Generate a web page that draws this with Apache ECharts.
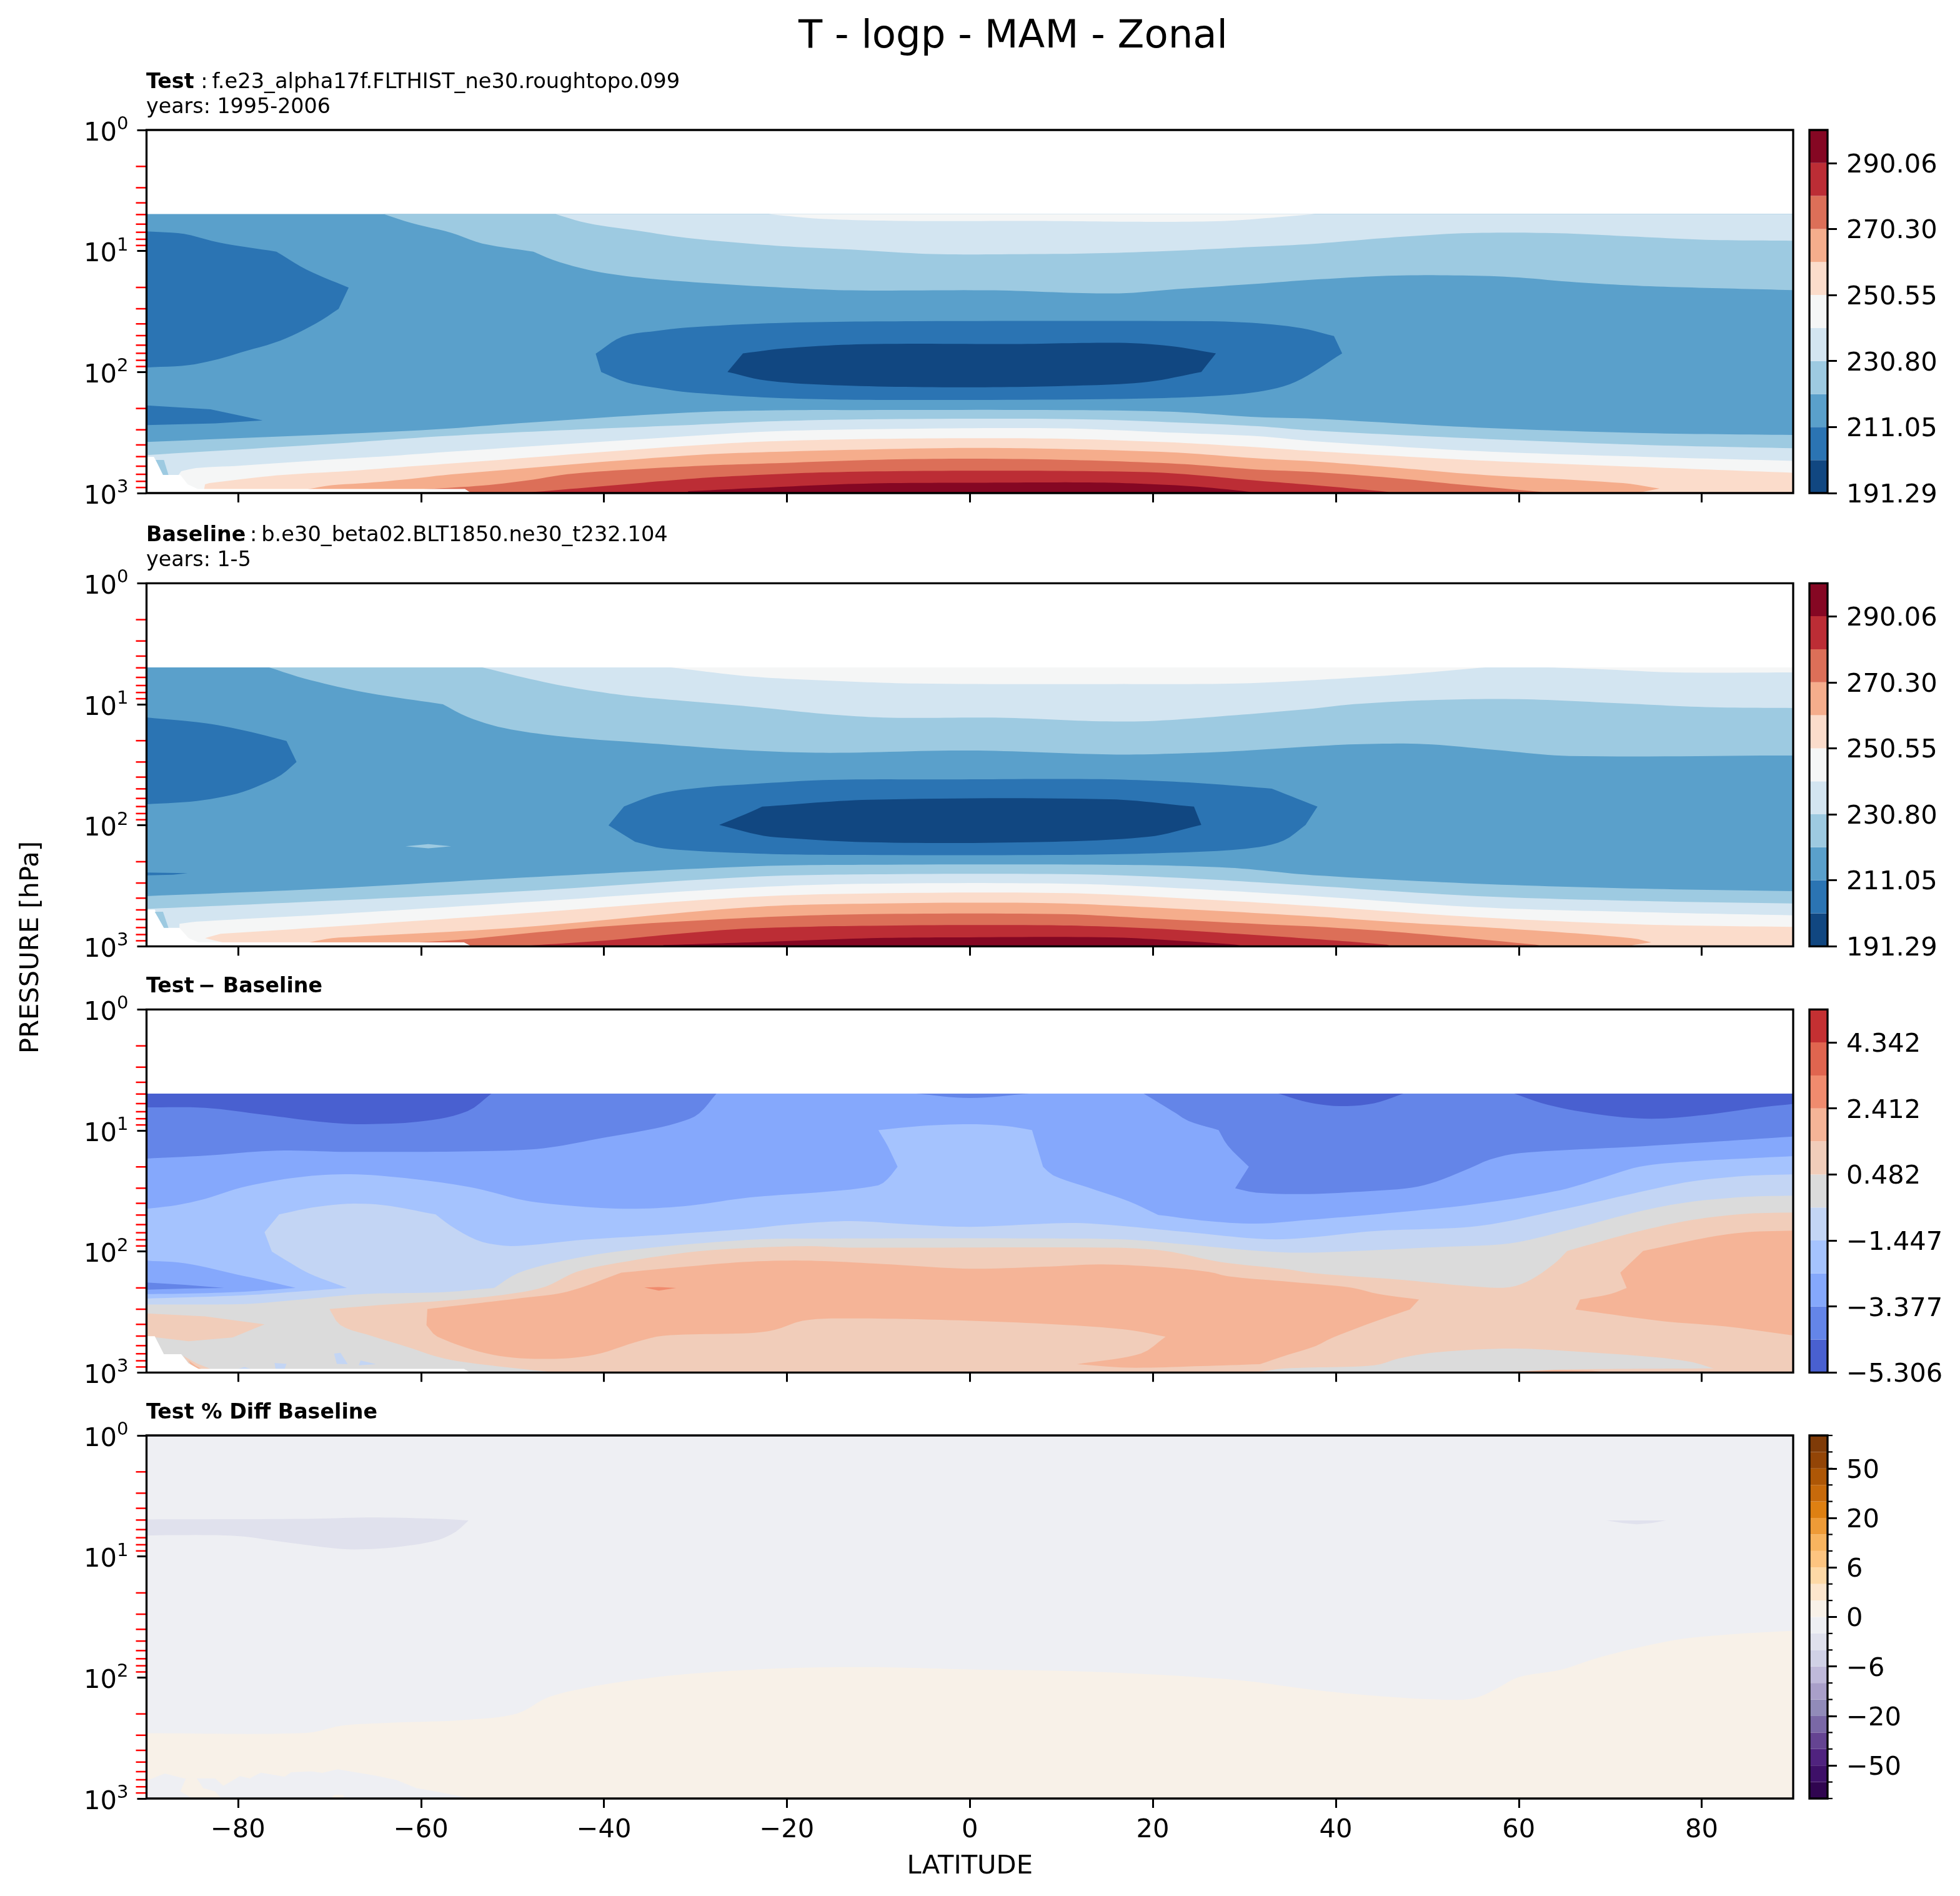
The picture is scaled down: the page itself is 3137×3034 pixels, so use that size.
<!DOCTYPE html>
<html><head><meta charset="utf-8">
<style>html,body{margin:0;padding:0;background:#fff}#c{width:3137px;height:3034px}</style>
<script src="https://cdn.jsdelivr.net/npm/echarts@6/dist/echarts.min.js"></script>
</head><body><div id="c"></div>
<script>
// ---- tick values and colour levels ----
const latTicks=[-80,-60,-40,-20,0,20,40,60,80];
const minorPressures=[2,3,4,5,6,7,8,9,20,30,40,50,60,70,80,90,200,300,400,500,600,700,800,900];
const levelsField=[191.29,201.17,211.05,220.92,230.80,240.68,250.55,260.43,270.30,280.18,290.06,299.93];
const ticksField=[191.29,211.05,230.80,250.55,270.30,290.06];
const levelsDiff=[-5.306,-4.341,-3.377,-2.412,-1.447,-0.482,0.482,1.447,2.412,3.377,4.342,5.306];
const ticksDiff=[-5.306,-3.377,-1.447,0.482,2.412,4.342];
const levelsPct=[-100,-75,-50,-40,-30,-20,-10,-8,-6,-4,-2,0,2,4,6,8,10,20,30,40,50,75,100];
const ticksPct=[-50,-20,-6,0,6,20,50];
const colorsField=['#114781','#2b74b3','#5aa0cb','#9dcae1','#d3e5f1','#f5f6f6','#fbdccb','#f5ad8c','#dc6f58','#bc2d35','#850723'];
const colorsDiff=['#4960d0','#6485e8','#85a8fc','#a5c3fe','#c3d5f4','#dbdbdb','#f1cdba','#f5b497','#f08b6e','#e0654f','#c43032'];
const colorsPct=['#300550','#3e1068','#50237f','#654492','#7a68a6','#918bb9','#a99fc9','#bfb9da','#d0d1e6','#e0e1ed','#eeeff3','#f8f1e8','#fde6cd','#fed9a6','#fdc480','#f8b45f','#ee9b37','#de8012','#c76a0b','#ae5706','#934507','#7f3b08'];

// ---- contour outlines: [latitude, log10(pressure hPa)] ----
// Test panel
const tU23=[[-64.1,.695],[-61,.77],[-56.7,.849],[-53.3,.938],[-47.7,1.005],[-45.6,1.073],[-41.8,1.154],[-37.5,1.208],[-30.9,1.254],[-21.2,1.299],[-13,1.325],[2.7,1.325],[12.3,1.348],[17.1,1.348],[21.9,1.319],[31.5,1.27],[37.5,1.237],[46.5,1.203],[54.6,1.203],[60,1.219],[65.5,1.254],[73.6,1.289],[82.7,1.309],[90,1.323]];
const tU34=[[-45.3,.695],[-41.8,.77],[-36.5,.83],[-30.9,.892],[-21.2,.956],[-13,.988],[-4,1.025],[7.5,1.025],[13.8,1.019],[21.9,.999],[31.5,.964],[37.5,.941],[46.5,.886],[54.6,.852],[63.7,.852],[71.4,.876],[80.4,.907],[90,.915]];
const tU45=[[-22,.695],[-16.5,.733],[-7,.7515],[7.5,.7515],[17,.7576],[24,.7576],[29,.747],[37.7,.695]];
const tL23=[[-90,2.578],[-60,2.481],[-48.5,2.419],[-30.9,2.335],[-21.2,2.316],[-11.6,2.314],[9.9,2.314],[21.9,2.328],[31.5,2.373],[37.5,2.385],[55.5,2.459],[73.6,2.504],[90,2.52]];
const tL34=[[-90,2.686],[-69.6,2.592],[-58,2.532],[-43.7,2.478],[-30.9,2.438],[-21.2,2.406],[-9.2,2.389],[11.4,2.389],[24.3,2.422],[31.5,2.448],[37.5,2.483],[55.5,2.55],[73.6,2.602],[90,2.63]];
const tL45=[[-86.5,2.85],[-86.2,2.819],[-84.6,2.794],[-79.6,2.773],[-70.5,2.726],[-63.7,2.695],[-56.8,2.658],[-30.9,2.53],[-21.2,2.489],[-6.9,2.469],[9.9,2.465],[21.9,2.5],[31.5,2.53],[37.5,2.571],[55.5,2.653],[73.6,2.7],[90,2.734]];
const tL56=[[-83.7,2.967],[-83.6,2.928],[-83.1,2.917],[-79.6,2.885],[-75.1,2.85],[-68.2,2.819],[-61.4,2.781],[-56.8,2.756],[-30.9,2.61],[-21.2,2.571],[-6.9,2.55],[9,2.55],[21.9,2.581],[31.5,2.622],[37.5,2.653],[55.5,2.73],[73.6,2.785],[90,2.832]];
const tL67=[[-72.3,2.967],[-69.8,2.936],[-65.9,2.916],[-61.4,2.885],[-56.8,2.847],[-30.9,2.69],[-21.2,2.659],[-2,2.628],[7.5,2.632],[21.9,2.663],[31.5,2.714],[37.5,2.738],[46.5,2.79],[55.5,2.847],[71.4,2.918],[75.4,2.963],[73.6,2.99],[73,3]];
const tL78=[[-60,2.97],[-53.3,2.938],[-48.5,2.897],[-43.2,2.838],[-30.9,2.78],[-21.2,2.753],[-6.9,2.72],[6.6,2.72],[21.9,2.755],[31.5,2.806],[37.5,2.826],[46.5,2.877],[53.3,2.928],[62.3,2.99],[63,3]];
const tL89=[[-49,3],[-41.3,2.951],[-30.9,2.884],[-26,2.861],[-16.4,2.83],[-2,2.816],[14.7,2.82],[21.9,2.836],[31.5,2.898],[37.5,2.934],[45.6,2.99],[46,3]];
const tL910=[[-30.8,2.985],[-23.6,2.959],[-11.6,2.922],[2.7,2.914],[14.7,2.914],[23.3,2.939],[28.1,2.969],[30.5,2.99],[31,3]];
const tBlobA=[[-90,.838],[-85.9,.859],[-82.1,.93],[-75.8,1.005],[-72.5,1.154],[-67.9,1.303],[-69,1.478],[-71.5,1.6],[-75.4,1.741],[-79.7,1.838],[-82.1,1.892],[-85.4,1.943],[-90,1.962]];
const tBlobB=[[-90,2.276],[-83,2.308],[-77.3,2.4],[-82.5,2.424],[-90,2.438]];
const tBlobC=[[-40.9,1.849],[-38,1.708],[-34.1,1.659],[-30.8,1.632],[-21.2,1.595],[-5.9,1.58],[25.7,1.58],[31.5,1.597],[36.3,1.638],[39.8,1.703],[40.7,1.846],[35.6,2.081],[31.5,2.163],[25.3,2.203],[14.7,2.224],[-10.2,2.23],[-21.2,2.214],[-30.8,2.167],[-34.1,2.132],[-37.5,2.086],[-40.3,2]];
const tBlobD=[[-24.8,1.846],[-20.3,1.805],[-11.6,1.77],[5.6,1.768],[12.3,1.76],[17.1,1.76],[21.9,1.785],[26.9,1.846],[25.3,1.999],[19.5,2.081],[12.3,2.111],[-.1,2.126],[-14,2.111],[-22.2,2.071],[-26.5,1.999]];
const tGap=[[-89,2.726],[-88.1,2.726],[-87.6,2.85],[-88.2,2.85]];
const tNoData=[[-90,2.7],[-89.2,2.7],[-88.1,2.85],[-86.3,2.85],[-85.5,2.928],[-84.4,2.967],[-55.2,2.967],[-54.5,3],[-90,3]];
// Baseline panel
const bU23=[[-76.6,.695],[-72.7,.788],[-66.2,.901],[-57.6,1],[-54.9,1.105],[-50.9,1.197],[-44.4,1.268],[-35.7,1.319],[-24,1.382],[-15.3,1.401],[0,1.382],[13,1.411],[18.2,1.415],[28.2,1.391],[36.9,1.35],[42.9,1.329],[49.7,1.329],[57.8,1.38],[65.5,1.427],[90,1.423]];
const bU34=[[-53.3,.695],[-48.8,.778],[-44.4,.849],[-37.9,.925],[-31.3,.972],[-24,1.019],[-15.3,1.084],[-8.7,1.111],[3.4,1.111],[13.4,1.139],[19.5,1.139],[28.2,1.095],[36.9,1.04],[42,.999],[51,.964],[60.1,.958],[70,.988],[80.4,1.023],[90,1.031]];
const bU45=[[-32.7,.695],[-24,.77],[-15.3,.805],[-5.7,.829],[16.9,.833],[29.1,.829],[36.9,.803],[46.5,.758],[56.4,.695]];
const bU45r=[[63.2,.695],[69.1,.711],[77.2,.737],[90,.737]];
const bL23=[[-90,2.585],[-70.5,2.524],[-48.8,2.432],[-24,2.34],[-10.9,2.326],[15.2,2.326],[28.2,2.35],[37.5,2.412],[55.5,2.483],[73.6,2.524],[90,2.544]];
const bL34=[[-90,2.691],[-70.5,2.626],[-48.8,2.544],[-24,2.426],[-10.9,2.405],[11.7,2.405],[23.9,2.438],[37.5,2.5],[55.5,2.585],[73.6,2.626],[90,2.646]];
const bL45=[[-86.4,2.85],[-86.4,2.814],[-84.5,2.796],[-70.5,2.738],[-48.8,2.636],[-24,2.514],[-10.9,2.483],[10.8,2.483],[23.9,2.524],[37.5,2.585],[55.5,2.677],[73.6,2.718],[90,2.744]];
const bL56=[[-81.7,2.967],[-83.6,2.932],[-81.9,2.896],[-70.5,2.841],[-48.8,2.728],[-24,2.592],[-8.7,2.561],[10.8,2.561],[23.9,2.606],[37.5,2.667],[55.5,2.759],[73.6,2.82],[90,2.84]];
const bL67=[[-72.2,2.967],[-69.7,2.932],[-67.5,2.922],[-48.8,2.841],[-24,2.677],[-10.9,2.647],[7.8,2.642],[19.5,2.677],[37.5,2.753],[46.5,2.8],[60.1,2.861],[72.3,2.932],[74.5,2.967],[72.7,2.987],[72,3]];
const bL78=[[-60.2,2.967],[-55.3,2.943],[-40.9,2.841],[-24,2.764],[-10.9,2.734],[10,2.734],[19.5,2.769],[32.6,2.82],[37.5,2.836],[46.5,2.881],[61.9,2.987],[62.5,3]];
const bL89=[[-48.3,2.994],[-40,2.953],[-31.3,2.892],[-24,2.853],[-10.9,2.83],[8.7,2.826],[19.5,2.851],[28.2,2.892],[37.5,2.939],[45.6,2.987],[46,3]];
const bL910=[[-33.5,2.99],[-24,2.967],[-10.9,2.933],[-1.3,2.926],[15.2,2.926],[23.9,2.959],[29.1,2.987],[30,3]];
const bBlobA=[[-90,1.109],[-83.6,1.156],[-79.3,1.217],[-74.7,1.303],[-73.6,1.476],[-75.3,1.585],[-77.5,1.666],[-80.1,1.738],[-84.5,1.799],[-90,1.826]];
const bBlobB=[[-90,2.391],[-85.5,2.395],[-87.1,2.408],[-90,2.414]];
const bBlobE=[[-61.7,2.173],[-59.2,2.156],[-56.7,2.173],[-59.2,2.191]];
const bBlobC=[[-39.5,2],[-37.8,1.844],[-33.9,1.738],[-29.1,1.687],[-24,1.66],[-15.3,1.625],[-2.2,1.621],[14.3,1.619],[23.9,1.646],[33,1.697],[38,1.846],[36.7,1.997],[34.3,2.126],[30.9,2.187],[23.9,2.222],[10.8,2.244],[-15.3,2.244],[-24,2.232],[-33.5,2.191],[-36.6,2.136]];
const bBlobD=[[-27.4,1.997],[-24,1.891],[-22.7,1.846],[-10.9,1.789],[15.2,1.785],[24.5,1.846],[25.3,1.997],[19.5,2.095],[6.5,2.14],[-10.9,2.14],[-21.8,2.095],[-24,2.064]];
const bGap=[[-89.1,2.714],[-88.2,2.714],[-87.6,2.847],[-88.1,2.847]];
const bNoData=[[-90,2.697],[-89.1,2.697],[-88.1,2.847],[-86.4,2.847],[-85.4,2.932],[-84.3,2.967],[-55.3,2.967],[-54.6,2.994],[-54.4,3],[-90,3]];
// Difference panel
const dTopL=[[-90,1.232],[-83.6,1.208],[-75.8,1.167],[-67.9,1.177],[-53.1,1.171],[-46.6,1.147],[-40,1.06],[-34.4,.983],[-31.3,.922],[-29.6,.86],[-27.7,.695],[-90,.695]];
const dTopC=[[-5.9,.695],[0,.732],[6.5,.695]];
const dTopR=[[19,.695],[22.6,.861],[23.9,.922],[27.2,.997],[28.2,1.126],[30.5,1.3],[29,1.478],[31.3,1.514],[37,1.525],[44.3,1.498],[48.3,1.473],[51,1.422],[54.7,1.31],[56.9,1.239],[60.1,1.187],[73.6,1.13],[90,1.05],[90,.695]];
const dMinL=[[-90,.809],[-83.6,.813],[-77.1,.871],[-70.5,.932],[-66.2,.948],[-59.6,.922],[-54.9,.84],[-52.3,.695],[-90,.695]];
const dMinC=[[33.7,.695],[37,.768],[40.5,.799],[44.2,.775],[47.4,.695]];
const dMinR=[[59.5,.695],[63.2,.789],[69.1,.871],[74.5,.903],[80.4,.871],[86.3,.81],[90,.781],[90,.695]];
const dC23=[[-90,1.647],[-86.7,1.617],[-83.6,1.565],[-79.7,1.473],[-74.9,1.402],[-70.5,1.367],[-66.2,1.365],[-59.6,1.412],[-54,1.478],[-48.8,1.576],[-44.4,1.617],[-37.9,1.647],[-31.3,1.626],[-24,1.553],[-15.3,1.504],[-10,1.453],[-9,1.402],[-7.9,1.3],[-9,1.126],[-10,.997],[-5.3,.963],[0,.948],[3.9,.963],[6.8,.997],[8,1.3],[9.1,1.371],[13,1.473],[17.4,1.586],[20.6,1.698],[26.1,1.749],[31.3,1.77],[37,1.739],[46.5,1.678],[55.5,1.606],[64.5,1.494],[69.1,1.392],[73.2,1.3],[78.2,1.259],[90,1.212]];
const dLowA=[[-90,2.076],[-85.8,2.097],[-80.2,2.189],[-77.1,2.24],[-73.7,2.301],[-79.3,2.332],[-85.8,2.348],[-90,2.352]];
const dLowB=[[-90,2.256],[-85.8,2.275],[-81.5,2.301],[-85.8,2.307],[-90,2.315]];
const dC34=[[-90,2.389],[-79.3,2.362],[-73.6,2.332],[-68.1,2.301],[-72.3,2.179],[-74.9,2.066],[-76.3,2.001],[-77.1,1.841],[-75.5,1.694],[-71.9,1.637],[-68,1.606],[-64.1,1.617],[-58.4,1.694],[-56.7,1.79],[-54,1.903],[-51.8,1.944],[-49.4,1.954],[-42.2,1.903],[-33.5,1.862],[-24,1.811],[-19.6,1.776],[-13,1.749],[-6.6,1.776],[0,1.796],[10.8,1.764],[15.2,1.78],[23.9,1.841],[32.6,1.899],[37.5,1.882],[44.2,1.831],[55.5,1.79],[64.5,1.657],[74.7,1.484],[78.8,1.422],[84.7,1.376],[90,1.363]];
const dC45=[[-90,2.438],[-79.3,2.434],[-74.1,2.403],[-66.2,2.352],[-57.5,2.336],[-52,2.301],[-49.4,2.179],[-44.4,2.076],[-37.9,1.994],[-24,1.903],[-15.3,1.893],[10.8,1.893],[17.4,1.903],[23.9,1.944],[32.6,2.001],[37.5,2.009],[51,1.964],[59,1.933],[64.5,1.841],[72.7,1.678],[78.2,1.596],[84.7,1.549],[90,1.539]];
const dWarmL=[[-90,2.512],[-83.6,2.536],[-77.1,2.602],[-80.6,2.71],[-85.4,2.741],[-90,2.7]];
const dC56=[[-45.3,3],[-53.1,2.935],[-57.5,2.884],[-61.8,2.781],[-65.3,2.7],[-68.8,2.608],[-70,2.475],[-64.7,2.444],[-56.9,2.403],[-50.4,2.352],[-46.4,2.291],[-43,2.169],[-37.9,2.087],[-30.5,2.005],[-24,1.97],[-17.5,1.956],[-13.1,1.968],[15.2,1.968],[21.3,1.995],[27.4,2.087],[34.8,2.148],[37.5,2.179],[46.5,2.23],[55.5,2.291],[59,2.295],[61.4,2.23],[64.1,2.087],[65.3,1.995],[72.7,1.841],[79,1.739],[84.9,1.688],[90,1.678],[90,3]];
const dGreyR=[[31.3,3],[34.3,2.967],[44.2,2.941],[46.9,2.884],[51,2.833],[59,2.802],[65.5,2.823],[75,2.874],[79,2.915],[81.3,2.966],[65,2.975],[60,2.99],[54,3]];
const dWarmC=[[-59.3,2.475],[-48.8,2.383],[-44,2.332],[-38.1,2.175],[-31.3,2.127],[-24,2.084],[-17.5,2.076],[-8.7,2.107],[0,2.142],[8.7,2.124],[14.3,2.107],[20.4,2.127],[26.1,2.168],[28.2,2.205],[34.8,2.25],[41.7,2.299],[44.7,2.352],[49.1,2.397],[48.1,2.479],[44.7,2.567],[39.7,2.71],[37.8,2.781],[34.8,2.853],[31.7,2.931],[26.1,2.945],[17.4,2.96],[11.7,2.931],[18.7,2.843],[21.4,2.704],[17.4,2.649],[10.8,2.608],[-2.2,2.567],[-14.4,2.553],[-18.3,2.573],[-21.4,2.649],[-24,2.674],[-33.5,2.696],[-36.6,2.751],[-41,2.853],[-46.1,2.888],[-52.2,2.853],[-58.2,2.704],[-59.4,2.608]];
const dWarmR=[[73.6,1.995],[80.8,1.882],[84.9,1.841],[90,1.827],[90,2.694],[82.6,2.619],[75.9,2.577],[66.2,2.479],[66.7,2.397],[70,2.352],[71.8,2.301],[71.1,2.175]];
const dWarmDot=[[-35.6,2.297],[-34,2.293],[-32.1,2.301],[-34,2.323]];
const dCoolP1=[[-69.5,2.843],[-68.8,2.837],[-68,2.931],[-69.2,2.929]];
const dCoolP2=[[-66.6,2.9],[-64.9,2.931],[-66.8,2.941]];
const dCoolP3=[[-76,2.921],[-74.7,2.929],[-74.9,2.97],[-75.9,2.97]];
const dCoolP4=[[-80,2.97],[-79.3,2.955],[-78.6,2.97]];
const dSurfA=[[-86,2.862],[-84.5,2.925],[-83,2.97],[-84.3,2.97],[-85.4,2.92]];
const dSurfB=[[-85.4,2.9],[-84.6,2.945],[-84,2.97],[-84.4,2.97],[-85.2,2.93]];
const dSurfC=[[57.5,3],[64,2.98],[68,2.985],[70,3]];
const dNoData=[[-90,2.7],[-89.1,2.7],[-88.1,2.849],[-86.2,2.849],[-85.4,2.925],[-84.3,2.97],[-55.3,2.97],[-54.6,3],[-90,3]];
// Percent difference panel
const pBlobL=[[-90,.694],[-72.5,.689],[-65.3,.678],[-58.1,.689],[-54.8,.702],[-56.2,.796],[-58.1,.863],[-61.5,.912],[-65.3,.938],[-68.6,.938],[-74.9,.882],[-80.1,.831],[-86.9,.823],[-90,.828]];
const pBlobR=[[69.6,.702],[76.1,.702],[74.5,.724],[72.9,.735],[71.4,.724]];
const pWarm=[[-90,2.461],[-72.5,2.458],[-68.6,2.397],[-62.9,2.373],[-55.2,2.351],[-49.5,2.298],[-46.1,2.164],[-41.8,2.083],[-37.5,2.029],[-30.9,1.971],[-20,1.923],[-10,1.915],[0,1.934],[10,1.945],[20,1.975],[30,2.027],[37.5,2.102],[46.5,2.164],[53.3,2.185],[55.5,2.164],[57.8,2.083],[60,1.997],[64.6,1.936],[69.1,1.828],[76.8,1.694],[82.7,1.646],[90,1.614],[90,3],[-90,3]];
const pCool=[[-90,2.853],[-88,2.794],[-85.9,2.834],[-84.5,2.834],[-82.5,2.834],[-81.6,2.895],[-79.8,2.815],[-78.7,2.834],[-77.5,2.786],[-74.9,2.82],[-74.2,2.783],[-72,2.775],[-70.8,2.788],[-69.1,2.759],[-65.3,2.807],[-62.7,2.847],[-60.5,2.914],[-58.1,2.946],[-54.5,3],[-90,3]];
const pPocketA=[[-85.7,2.834],[-84.5,2.834],[-83.8,2.915],[-82.5,2.94],[-81.8,3],[-85,3],[-86.3,2.94]];
const pPocketB=[[-69.8,3],[-69.5,2.97],[-68.5,2.97],[-68.4,3]];
const pNickA=[[40,3],[42.5,2.985],[45,3]];
const pNickB=[[55,3],[56,2.985],[57.5,3]];

// ---- helpers: close outlines against the data limits, draw outlines as curves ----
const PTOP=.695, PBOT=3;
const rect=[[-90,PTOP],[90,PTOP],[90,PBOT],[-90,PBOT]];
const below=c=>c.concat([[c[c.length-1][0],PBOT],[c[0][0],PBOT]]);
const above=c=>c.concat([[c[c.length-1][0],PTOP],[c[0][0],PTOP]]);
// Hermite rendering curve through the read points; listed vertices stay sharp.
const SX=14.64,SY=193.7;
function sm(c,corners){
  corners=corners||[];
  const n=c.length, isC=i=>i===0||i===n-1||corners.indexOf(i)>=0;
  const P=c.map(q=>[q[0]*SX,q[1]*SY]);
  const unit=(a,b)=>{const dx=b[0]-a[0],dy=b[1]-a[1],l=Math.hypot(dx,dy)||1;return [dx/l,dy/l];};
  const dirAt=(i,seg)=>isC(i)?unit(P[seg],P[seg+1]):unit(P[i-1],P[i+1]);
  const out=[];
  for(let i=0;i<n-1;i++){
    const a=P[i],b=P[i+1],d=Math.hypot(b[0]-a[0],b[1]-a[1]);
    const t1=dirAt(i,i),t2=dirAt(i+1,i);
    const steps=Math.max(2,Math.min(14,Math.ceil(d/12)));
    for(let k=0;k<steps;k++){
      const t=k/steps,t2p=t*t,t3=t2p*t;
      const h00=2*t3-3*t2p+1,h10=t3-2*t2p+t,h01=-2*t3+3*t2p,h11=t3-t2p;
      out.push([(h00*a[0]+h10*d*t1[0]+h01*b[0]+h11*d*t2[0])/SX,(h00*a[1]+h10*d*t1[1]+h01*b[1]+h11*d*t2[1])/SY]);
    }
  }
  out.push(c[n-1]);
  return out;
}

const layersTest=[[2,rect],[3,above(sm(tU23,[4]))],[4,above(sm(tU34))],[5,above(sm(tU45))],
 [3,below(sm(tL23))],[4,below(sm(tL34))],[5,below(sm(tL45,[1])) ],[6,below(sm(tL56,[1,2]))],[7,below(sm(tL67,[15,16]))],[8,below(sm(tL78))],[9,below(sm(tL89))],[10,below(sm(tL910))],
 [1,sm(tBlobA,[3,5,6])],[1,tBlobB],[1,sm(tBlobC,[9,10])],[0,sm(tBlobD,[7,8])],[-1,tNoData],[3,tGap]];
const layersBase=[[2,rect],[3,above(sm(bU23,[3]))],[4,above(sm(bU34))],[5,above(sm(bU45))],[5,above(sm(bU45r))],
 [3,below(sm(bL23))],[4,below(sm(bL34))],[5,below(sm(bL45,[1]))],[6,below(sm(bL56,[1,2]))],[7,below(sm(bL67,[12,13]))],[8,below(sm(bL78))],[9,below(sm(bL89))],[10,below(sm(bL910))],
 [1,sm(bBlobA,[3,4])],[1,bBlobB],[3,bBlobE],[1,sm(bBlobC,[1,9,10,11])],[0,sm(bBlobD,[2,5,6])],[-1,bNoData],[3,bGap]];
const layersDiff=[[2,rect],[1,sm(dTopL,[10])],[1,sm(dTopC)],[1,sm(dTopR,[3,5,6,16])],[0,sm(dMinL,[7])],[0,sm(dMinC)],[0,sm(dMinR,[6])],
 [3,below(sm(dC23,[17,19,23,24,28]))],[2,sm(dLowA,[4])],[1,dLowB],[4,below(sm(dC34,[3,6,7,8,12]))],[5,below(sm(dC45,[5]))],[6,dWarmL],[6,sm(dC56,[6,27,31])],[5,sm(dGreyR,[9])],[7,sm(dWarmC,[3,17,18,23,26,28])],[7,sm(dWarmR,[3,4,7,8,10])],[8,dWarmDot],
 [4,dCoolP1],[4,dCoolP2],[4,dCoolP3],[4,dCoolP4],[6,dSurfA],[7,dSurfB],[7,dSurfC],[-1,dNoData]];
const PCOOL=10,PWARM=11,PLAV=9;
const layersPct=[[PCOOL,[[-90,0],[90,0],[90,3],[-90,3]]],[PLAV,sm(pBlobL,[4])],[PLAV,pBlobR],[PWARM,sm(pWarm,[26,27])],[PCOOL,pCool],[PWARM,pPocketA],[PWARM,pPocketB],[PCOOL,pNickA],[PCOOL,pNickB]];

// ---- layout ----
const F=41.67, SF=33.3;
const plotL=234.5, plotW=2635.5, cbL=2896, cbW=29, panelH=581;
const tops=[208,933.3,1615.3,2297];
const panels=[
 {layers:layersTest,colors:colorsField,levels:levelsField,ticks:ticksField,fmt:v=>v.toFixed(2)},
 {layers:layersBase,colors:colorsField,levels:levelsField,ticks:ticksField,fmt:v=>v.toFixed(2)},
 {layers:layersDiff,colors:colorsDiff,levels:levelsDiff,ticks:ticksDiff,fmt:v=>v.toFixed(3).replace('-','\u2212')},
 {layers:layersPct,colors:colorsPct,levels:levelsPct,ticks:ticksPct,fmt:null}
];
const font='"DejaVu Sans"';
const grid=[],xAxis=[],yAxis=[],series=[];
panels.forEach((p,i)=>{
  const g=grid.length;
  grid.push({left:plotL,top:tops[i],width:plotW,height:panelH,containLabel:false});
  xAxis.push({gridIndex:g,type:'value',min:-90,max:90,position:'bottom',splitLine:{show:false},
    axisLine:{show:false,onZero:false},
    axisTick:{show:true,length:15,lineStyle:{color:'#000',width:3},customValues:latTicks},
    axisLabel:{show:i===3,customValues:latTicks,margin:30,color:'#000',fontFamily:font,fontSize:F,
      formatter:v=>String(v).replace('-','\u2212')},
    name:i===3?'LATITUDE':'',nameLocation:'middle',nameGap:88,nameTextStyle:{color:'#000',fontFamily:font,fontSize:F}});
  yAxis.push({gridIndex:g,type:'log',logBase:10,min:1,max:1000,inverse:true,position:'left',splitLine:{show:false},minorTick:{show:false},
    axisLine:{show:false,onZero:false},
    axisTick:{show:true,length:15,lineStyle:{color:'#000',width:3}},
    axisLabel:{margin:29,color:'#000',formatter:v=>'{a|10}{b|'+Math.round(Math.log10(v))+'}',
      rich:{a:{fontFamily:font,fontSize:F,color:'#000',padding:[12,0,0,0]},b:{fontFamily:font,fontSize:F*.7,color:'#000',padding:[0,0,17,0]}}}});
  series.push({type:'custom',xAxisIndex:g,yAxisIndex:g,clip:true,silent:true,z:2,animation:false,
    data:p.layers.map((_,k)=>[k]),encode:{x:[],y:[]},
    renderItem:(par,api)=>{
      const [c,pts]=p.layers[api.value(0)];
      return {type:'polygon',shape:{points:pts.map(q=>api.coord([q[0],Math.pow(10,q[1])]))},
        style:{fill:c<0?'#ffffff':p.colors[c],stroke:null}};
    }});
  // red pressure-level ticks
  series.push({type:'custom',xAxisIndex:g,yAxisIndex:g,clip:false,silent:true,z:5,animation:false,
    data:minorPressures.map(v=>[v]),encode:{x:[],y:[]},
    renderItem:(par,api)=>{
      const a=api.coord([-90,api.value(0)]);
      return {type:'line',shape:{x1:a[0]-17,y1:a[1],x2:a[0],y2:a[1]},style:{stroke:'#ff0000',lineWidth:2.5}};
    }});
  // frame
  series.push({type:'custom',xAxisIndex:g,yAxisIndex:g,clip:false,silent:true,z:6,animation:false,
    data:[[0]],encode:{x:[],y:[]},
    renderItem:(par,api)=>{
      const a=api.coord([-90,1]),b=api.coord([90,1000]);
      return {type:'rect',shape:{x:a[0],y:a[1],width:b[0]-a[0],height:b[1]-a[1]},style:{fill:null,stroke:'#000',lineWidth:3.3}};
    }});
  // colour bar
  const h=grid.length;
  const isPct=i===3;
  const nb=p.colors.length;
  const lo=isPct?0:p.levels[0], hi=isPct?nb:p.levels[nb];
  const at=k=>isPct?k:p.levels[k];
  const cbTicks=isPct?p.ticks.map(t=>p.levels.indexOf(t)):p.ticks;
  grid.push({left:cbL,top:tops[i],width:cbW,height:panelH,containLabel:false});
  xAxis.push({gridIndex:h,type:'value',min:0,max:1,show:false});
  yAxis.push({gridIndex:h,type:'value',min:lo,max:hi,position:'right',splitLine:{show:false},
    axisLine:{show:false,onZero:false},
    axisTick:{show:true,length:15,lineStyle:{color:'#000',width:3},customValues:cbTicks},
    axisLabel:{margin:30,color:'#000',customValues:cbTicks,
      formatter:v=>'{v|'+(isPct?String(p.levels[Math.round(v)]).replace('-','\u2212'):p.fmt(v))+'}',
      rich:{v:{fontFamily:font,fontSize:F,color:'#000',padding:[8,0,0,0]}}}});
  series.push({type:'custom',xAxisIndex:h,yAxisIndex:h,clip:false,silent:true,z:2,animation:false,
    data:p.colors.map((_,k)=>[k]),encode:{x:[],y:[]},
    renderItem:(par,api)=>{
      const k=api.value(0),a=api.coord([0,at(k+1)]),b=api.coord([1,at(k)]);
      return {type:'rect',shape:{x:a[0],y:a[1],width:b[0]-a[0],height:b[1]-a[1]},style:{fill:p.colors[k]}};
    }});
  if(isPct){
    series.push({type:'custom',xAxisIndex:h,yAxisIndex:h,clip:false,silent:true,z:5,animation:false,
      data:p.levels.map((_,k)=>[k]),encode:{x:[],y:[]},
      renderItem:(par,api)=>{
        const a=api.coord([1,api.value(0)]);
        return {type:'line',shape:{x1:a[0],y1:a[1],x2:a[0]+8,y2:a[1]},style:{stroke:'#000',lineWidth:2.2}};
      }});
  }
  series.push({type:'custom',xAxisIndex:h,yAxisIndex:h,clip:false,silent:true,z:6,animation:false,
    data:[[0]],encode:{x:[],y:[]},
    renderItem:(par,api)=>{
      const a=api.coord([0,hi]),b=api.coord([1,lo]);
      return {type:'rect',shape:{x:a[0],y:a[1],width:b[0]-a[0],height:b[1]-a[1]},style:{fill:null,stroke:'#000',lineWidth:3.3}};
    }});
});

const sub=(text,left,top)=>({text,left,top,padding:0,textStyle:{fontFamily:font,fontSize:SF,fontWeight:'normal',color:'#000',
  rich:{b:{fontFamily:font,fontSize:SF,fontWeight:'bold',color:'#000'},n:{fontFamily:font,fontSize:33.7,color:'#000'},y:{fontFamily:font,fontSize:SF,color:'#000'}}}});
const title=[
 {text:'T - logp - MAM - Zonal',left:1278,top:28,padding:0,textStyle:{fontFamily:font,fontSize:62.5,fontWeight:'normal',color:'#000'}},
 sub('{b|Test}{n| :\u2009f.e23_alpha17f.FLTHIST_ne30.roughtopo.099}',234,115),
 sub('{y|years: 1995-2006}',234,156),
 sub('{b|Baseline}{n|\u2009:\u2009b.e30_beta02.BLT1850.ne30_t232.104}',234,840),
 sub('{y|years: 1-5}',234,881),
 sub('{b|Test\u2009\u2212 Baseline}',234,1563),
 sub('{b|Test % Diff Baseline}',234,2245)
];

const chart=echarts.init(document.getElementById('c'),null,{renderer:'canvas',width:3137,height:3034});
chart.setOption({animation:false,backgroundColor:'#fff',title,grid,xAxis,yAxis,series,
  graphic:[{type:'text',x:50,y:1516,rotation:Math.PI/2,style:{text:'PRESSURE [hPa]',fontFamily:font,fontSize:F,fill:'#000',align:'center',verticalAlign:'middle'}}]});
</script></body></html>
